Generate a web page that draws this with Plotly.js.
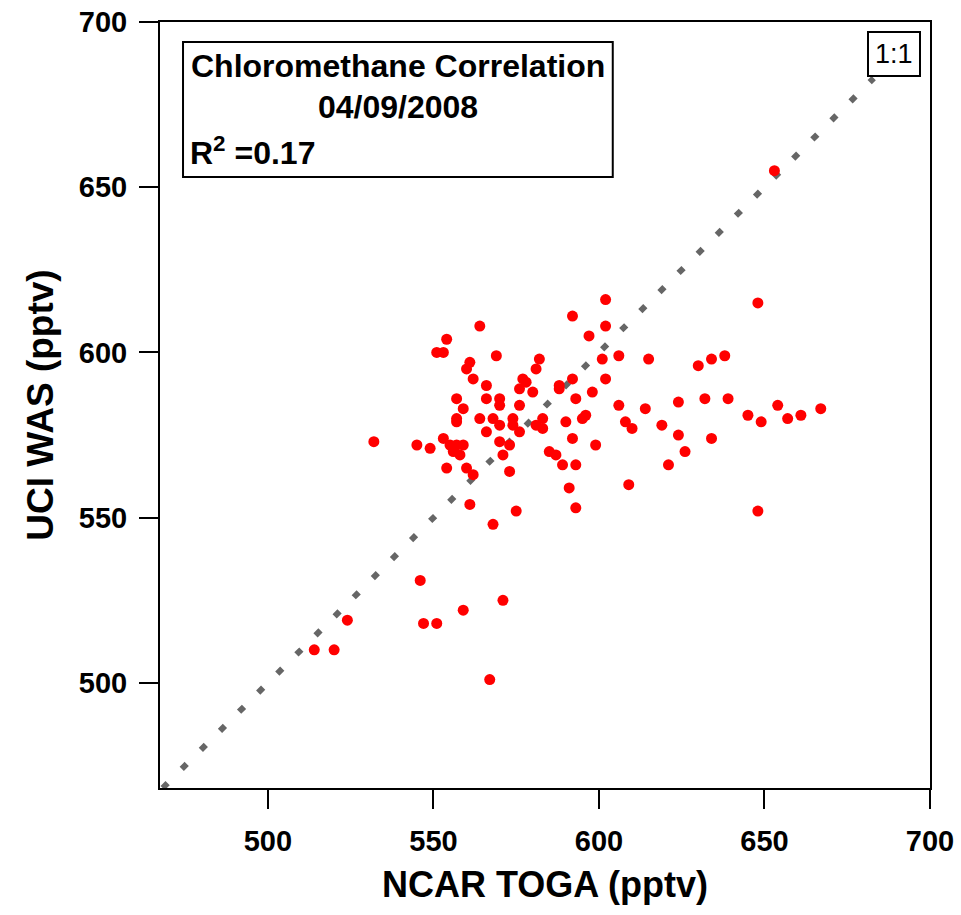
<!DOCTYPE html>
<html>
<head>
<meta charset="utf-8">
<script src="https://cdn.plot.ly/plotly-3.0.1.min.js"></script>
<style>html,body{margin:0;padding:0;background:#fff;}#chart{width:961px;height:915px;}</style>
</head>
<body>
<div id="chart"></div>
<script>
// NCAR TOGA (x) vs UCI WAS (y), chloromethane, pptv
var togaX = [653,648,602,602,597,601,606,615,630,634,638,602,598,606,614,624,632,639,645,649,654,657,661,667,596,595,608,610,619,624,634,626,621,599,609,648,
  592,564,554,551,553,569,561,560,582,581,562,566,577,578,576,580,588,588,592,593,557,566,570,570,559,576,557,557,564,568,570,574,574,583,581,583,590,566,576,
  553,545,549,532,555,557,559,556,558,570,573,571,585,587,592,589,593,554,560,562,573,591,593,561,575,568,546,571,559,524,547,551,514,520,567];
var wasY = [655,615,616,608,605,598,599,598,596,598,599,592,588,584,583,585,586,586,581,579,584,580,581,583,581,580,579,577,578,575,574,570,566,572,560,552,
  611,608,604,600,600,599,597,595,598,595,592,590,592,591,589,588,590,589,592,586,586,586,586,584,583,584,580,579,580,580,578,580,578,580,578,577,579,576,576,
  574,572,571,573,572,572,572,570,569,573,572,569,570,569,574,566,566,565,565,563,564,559,553,554,552,548,531,525,522,519,518,518,510,510,501];
var oneToOne = [468.2, 683];
var xTicks = [500, 550, 600, 650, 700];
var yTicks = [500, 550, 600, 650, 700];
var titleLines = ["Chloromethane Correlation", "04/09/2008"];
var r2Text = "R<sup>2</sup> =0.17";

var FONT = "Liberation Sans, Arial, Helvetica, sans-serif";

var traces = [
  {
    x: oneToOne, y: oneToOne, type: "scatter", mode: "lines",
    line: {color: "#666666", width: 6, dash: "7px,20px"},
    hoverinfo: "skip", showlegend: false
  },
  {
    x: togaX, y: wasY, type: "scatter", mode: "markers",
    marker: {color: "#ff0000", size: 11, line: {width: 0}},
    showlegend: false
  }
];

var axisCommon = {
  showgrid: false, zeroline: false,
  showline: true, linecolor: "#000", linewidth: 2, mirror: true,
  ticks: "outside", ticklen: 19, tickwidth: 2, tickcolor: "#000",
  tickfont: {family: FONT, size: 29, color: "#000", weight: "bold"},
  automargin: false
};

var layout = {
  width: 961, height: 915,
  margin: {l: 160, r: 31, t: 22, b: 127},
  paper_bgcolor: "#fff", plot_bgcolor: "#fff",
  showlegend: false,
  xaxis: Object.assign({}, axisCommon, {
    range: [467.4, 700], tickvals: xTicks, ticktext: xTicks.map(String),
    ticklabelstandoff: 7,
    title: {text: "NCAR TOGA (pptv)", font: {family: FONT, size: 36, color: "#000", weight: "bold"}, standoff: 16}
  }),
  yaxis: Object.assign({}, axisCommon, {
    range: [468.2, 700], tickvals: yTicks, ticktext: yTicks.map(String),
    ticklabelstandoff: 6,
    title: {text: "UCI WAS (pptv)", font: {family: FONT, size: 37, color: "#000", weight: "bold"}, standoff: 14}
  }),
  shapes: [
    {type: "rect", xref: "paper", yref: "paper", x0: 0.0299, x1: 0.588, y0: 0.7977, y1: 0.974,
     line: {color: "#000", width: 2}, fillcolor: "#fff", layer: "above"}
  ],
  annotations: [
    {xref: "paper", yref: "paper", x: 0.309, y: 0.943, text: titleLines[0], showarrow: false,
     xanchor: "center", yanchor: "middle", font: {family: FONT, size: 32, color: "#000", weight: "bold"}},
    {xref: "paper", yref: "paper", x: 0.309, y: 0.8896, text: titleLines[1], showarrow: false,
     xanchor: "center", yanchor: "middle", font: {family: FONT, size: 32, color: "#000", weight: "bold"}},
    {xref: "paper", yref: "paper", x: 0.037, y: 0.832, text: r2Text, showarrow: false,
     xanchor: "left", yanchor: "middle", font: {family: FONT, size: 32, color: "#000", weight: "bold"}},
    {xref: "paper", yref: "paper", x: 0.9535, y: 0.958, text: "1:1", showarrow: false,
     xanchor: "center", yanchor: "middle", bordercolor: "#000", borderwidth: 2, borderpad: 6, bgcolor: "#fff",
     font: {family: FONT, size: 27, color: "#000"}}
  ]
};

Plotly.newPlot("chart", traces, layout, {staticPlot: true, displayModeBar: false});
</script>
</body>
</html>
